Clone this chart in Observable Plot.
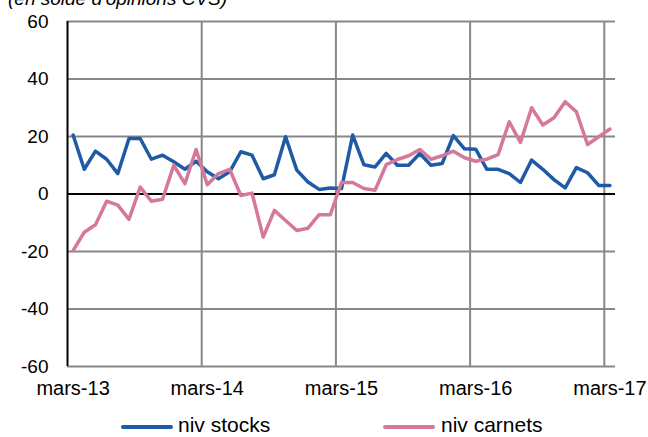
<!DOCTYPE html>
<html><head><meta charset="utf-8">
<script src="https://cdn.jsdelivr.net/npm/d3@7"></script>
<script src="https://cdn.jsdelivr.net/npm/@observablehq/plot@0.6"></script>
<style>
body{margin:0;background:#fff;font-family:"Liberation Sans",Arial,sans-serif;}
#wrap{position:relative;width:648px;height:437px;overflow:hidden;}
#title{position:absolute;left:8px;top:-12px;font-style:italic;font-size:19px;color:#000;white-space:nowrap;}
#chart{position:absolute;left:0;top:0;}
.leg{position:absolute;top:414px;font-size:21px;line-height:21px;color:#000;white-space:nowrap;}
.sw{position:absolute;top:425px;width:52px;height:4px;border-radius:2px;}
</style></head><body>
<div id="wrap">
<div id="chart"></div>
<div id="title">(en solde d'opinions CVS)</div>
<div class="sw" style="left:121px;background:#1F5AA6"></div>
<div class="leg" style="left:178px">niv stocks</div>
<div class="sw" style="left:383px;background:#D5789C"></div>
<div class="leg" style="left:441px">niv carnets</div>
</div>
<script>
const months = ["mars-13","avr-13","mai-13","juin-13","juil-13","août-13","sept-13","oct-13","nov-13","déc-13","janv-14","févr-14",
"mars-14","avr-14","mai-14","juin-14","juil-14","août-14","sept-14","oct-14","nov-14","déc-14","janv-15","févr-15",
"mars-15","avr-15","mai-15","juin-15","juil-15","août-15","sept-15","oct-15","nov-15","déc-15","janv-16","févr-16",
"mars-16","avr-16","mai-16","juin-16","juil-16","août-16","sept-16","oct-16","nov-16","déc-16","janv-17","févr-17",
"mars-17"];
const nivStocks = [20.5,8.6,14.9,12.1,7.1,19.3,19.3,12.1,13.5,11.2,8.6,11.4,
7.7,5.3,7.7,14.7,13.5,5.3,6.7,19.9,8.3,4.2,1.6,2.1,
1.9,20.5,10.2,9.4,14.1,10.0,10.0,14.1,10.0,10.6,20.3,15.7,
15.6,8.6,8.6,7.1,4.0,11.8,8.6,5.0,2.1,9.2,7.4,3.0,
3.0];
const nivCarnets = [-19.7,-13.3,-10.7,-2.5,-3.9,-8.8,2.4,-2.5,-1.8,10.0,3.6,15.5,
3.2,7.1,8.6,-0.5,0.3,-15.0,-5.7,-9.2,-12.7,-11.9,-7.2,-7.2,
4.0,4.0,1.9,1.3,10.2,12.0,13.3,15.5,12.1,13.3,14.9,12.6,
11.4,12.1,13.7,25.1,17.9,30.0,24.0,26.5,32.1,28.6,17.2,19.9,
22.6];
const yTicks = [-60,-40,-20,0,20,40,60];
const xTickLabels = ["mars-13","mars-14","mars-15","mars-16","mars-17"];

const idx = m => months.indexOf(m);
const stocksData = months.map((m,i)=>({m, v:nivStocks[i]}));
const carnetsData = months.map((m,i)=>({m, v:nivCarnets[i]}));

const chart = Plot.plot({
  width: 648, height: 407,
  marginLeft: 67, marginRight: 33, marginTop: 21, marginBottom: 41,
  style: {fontFamily: "'Liberation Sans', Arial, sans-serif", color: "#000", background: "transparent"},
  x: {domain: [0, months.length], axis: null},
  y: {domain: [-60, 60], axis: null},
  marks: [
    Plot.ruleY(yTicks.filter(d => d !== 0), {y: d => d, stroke: "#878787", strokeWidth: 2}),
    Plot.ruleX(xTickLabels.slice(1), {x: d => idx(d), stroke: "#878787", strokeWidth: 2}),
    Plot.ruleY([0], {stroke: "#000", strokeWidth: 2}),
    Plot.ruleX([0], {stroke: "#000", strokeWidth: 2}),
    Plot.line(stocksData, {x: d => idx(d.m) + 0.5, y: "v", stroke: "#1F5AA6", strokeWidth: 3.5, strokeLinejoin: "round"}),
    Plot.line(carnetsData, {x: d => idx(d.m) + 0.5, y: "v", stroke: "#D5789C", strokeWidth: 3.5, strokeLinejoin: "round"}),
    Plot.axisY(yTicks, {tickSize: 0, tickPadding: 19, fontSize: 19, label: null, tickFormat: d => String(d)}),
    Plot.axisX(xTickLabels.map(m => idx(m) + 0.5), {tickSize: 0, tickPadding: 14, fontSize: 20, label: null,
      tickFormat: d => months[Math.floor(d)]})
  ]
});
document.getElementById("chart").appendChild(chart);
</script>
</body></html>
